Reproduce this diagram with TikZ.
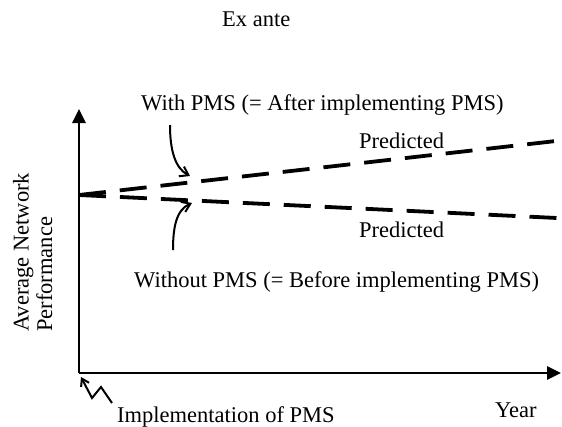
\documentclass[tikz,border=0pt]{standalone}
\usepackage{fontspec}
\setmainfont{Liberation Serif}
\usetikzlibrary{arrows.meta}
\begin{document}
\begin{tikzpicture}[x=1pt,y=-1pt,
  lbl/.style={inner sep=0pt,anchor=base west,font=\fontsize{22.5}{23.5}\selectfont},
  axis/.style={line width=2.7pt,-{Triangle[length=14pt,width=13pt]}},
  pred/.style={line width=3.8pt,dash pattern=on 27pt off 14pt},
  pointer/.style={line width=2pt,-{Straight Barb[length=8pt,width=11pt]}}]
\useasboundingbox (0,0) rectangle (562,426);
\coordinate (O) at (79,373);
\coordinate (ytop) at (79,109);
\coordinate (xend) at (561,373);
\coordinate (S) at (79,195);
\coordinate (up) at (556,141);
\coordinate (dn) at (557,218);
\draw[axis] (O) -- (ytop);
\draw[axis] (O) -- (xend);
\draw[pred] (S) -- (up);
\draw[pred] (S) -- (dn);
\node[lbl] (title) at (222,26) {Ex ante};
\node[lbl] (with) at (141,110) {With PMS (= After implementing PMS)};
\node[lbl] (p1) at (359,148) {Predicted};
\node[lbl] (p2) at (359,237) {Predicted};
\node[lbl] (without) at (134,287) {Without PMS (= Before implementing PMS)};
\node[lbl,rotate=90,align=left] (ylab) at (52,332) {Average Network\\Performance};
\node[lbl] (impl) at (117,422) {Implementation of PMS};
\node[lbl] (year) at (495,417) {Year};
\coordinate (a1s) at (170,125);
\coordinate (a1e) at (190,176);
\coordinate (a2s) at (173,250);
\coordinate (a2e) at (192,203);
\draw[pointer] (a1s) .. controls (170,150) and (175,168) .. (a1e);
\draw[pointer] (a2s) .. controls (173,228) and (176,210) .. (a2e);
\coordinate (zs) at (112,403);
\coordinate (zt) at (81,377);
\draw[line width=2pt,-{Straight Barb[length=7pt,width=9pt]}] (zs) -- (101,387) -- (92,398) -- (zt);
\end{tikzpicture}
\end{document}
